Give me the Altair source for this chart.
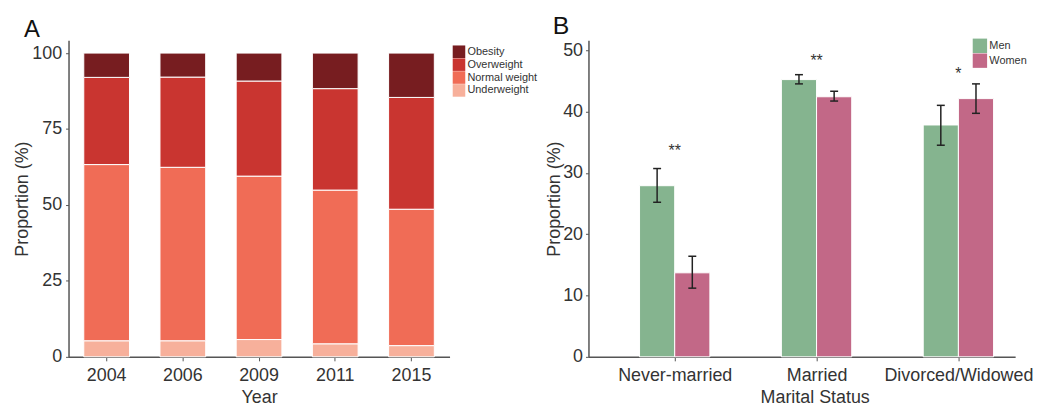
import json
import altair as alt
import pandas as pd

# ---------------- Panel A data ----------------
years = ["2004", "2006", "2009", "2011", "2015"]
categories = ["Obesity", "Overweight", "Normal weight", "Underweight"]
underweight = [5.3, 5.3, 5.7, 4.3, 3.7]
normal_weight = [58.0, 57.1, 53.8, 50.6, 44.9]
overweight = [28.7, 29.7, 31.3, 33.4, 36.8]
obesity = [8.0, 7.9, 9.2, 11.7, 14.6]
bmi_colors = ["#771d20", "#c93530", "#f06c56", "#f7b09b"]

# ---------------- Panel B data ----------------
statuses = ["Never-married", "Married", "Divorced/Widowed"]
sexes = ["Men", "Women"]
men = [27.9, 45.2, 37.8]
men_lo = [25.2, 44.5, 34.5]
men_hi = [30.7, 46.0, 41.0]
women = [13.7, 42.4, 42.1]
women_lo = [11.2, 41.7, 39.7]
women_hi = [16.4, 43.3, 44.5]
stars = ["**", "**", "*"]
star_y = [33.6, 48.3, 46.1]
sex_colors = ["#85b48f", "#c26887"]

FONT = "Liberation Sans"

# ---------------- build tables ----------------
series_a = {
    "Underweight": underweight,
    "Normal weight": normal_weight,
    "Overweight": overweight,
    "Obesity": obesity,
}
stack_order = ["Underweight", "Normal weight", "Overweight", "Obesity"]
rows_a = []
for cat, vals in series_a.items():
    for y, v in zip(years, vals):
        rows_a.append({"year": y, "category": cat, "value": v,
                       "ord": stack_order.index(cat)})
df_a = pd.DataFrame(rows_a)

rows_b = []
for i, s in enumerate(statuses):
    rows_b.append({"status": s, "sex": "Men", "value": men[i],
                   "lo": men_lo[i], "hi": men_hi[i]})
    rows_b.append({"status": s, "sex": "Women", "value": women[i],
                   "lo": women_lo[i], "hi": women_hi[i]})
df_b = pd.DataFrame(rows_b)
df_stars = pd.DataFrame({"status": statuses, "star": stars, "sy": star_y})

# ---------------- Panel A ----------------
chart_a = alt.Chart(df_a).mark_bar(stroke="white", strokeWidth=1).encode(
    x=alt.X("year:N", sort=years,
            scale=alt.Scale(paddingInner=0.4, paddingOuter=0.2),
            axis=alt.Axis(title="Year", labelAngle=0, tickSize=4,
                          labelPadding=6, titlePadding=4)),
    y=alt.Y("value:Q", stack="zero",
            scale=alt.Scale(domain=[0, 104.2], nice=False),
            axis=alt.Axis(title="Proportion (%)", values=[0, 25, 50, 75, 100],
                          tickSize=3, labelPadding=4, titlePadding=0,
                          grid=False)),
    color=alt.Color("category:N",
                    scale=alt.Scale(domain=categories, range=bmi_colors),
                    legend=alt.Legend(orient="none", legendX=387, legendY=5,
                                      title=None, symbolType="square",
                                      symbolSize=160, symbolStrokeWidth=0,
                                      labelFontSize=11, rowPadding=0,
                                      labelOffset=2, padding=0,
                                      labelColor="#333")),
    order=alt.Order("ord:Q"),
).properties(
    width=384, height=319,
    title=alt.TitleParams("A", anchor="start", frame="group", dx=-45,
                          fontSize=24, fontWeight="normal", color="#111",
                          baseline="alphabetic", offset=-21, font=FONT),
)

# ---------------- Panel B ----------------
idx_expr = f"indexof({json.dumps(statuses)}, datum.status)"
base_b = alt.Chart(df_b).transform_calculate(
    idx=idx_expr
).transform_calculate(
    xs="datum.idx + (datum.sex == 'Men' ? -0.248 : 0)"
).transform_calculate(
    xe="datum.xs + 0.248", xc="datum.xs + 0.124"
).transform_calculate(
    cl="datum.xc - 0.028", cr="datum.xc + 0.028"
)

xscale = alt.Scale(domain=[-0.608, 2.4], nice=False, zero=False)
yscale_b = alt.Scale(domain=[0, 51.6], nice=False)

bars_b = base_b.mark_bar(stroke="white", strokeWidth=1).encode(
    x=alt.X("xs:Q", scale=xscale,
            axis=alt.Axis(title="Marital Status", values=[0, 1, 2],
                          labelExpr=f"{json.dumps(statuses)}[datum.value]",
                          labelFlush=False, labelOverlap=False,
                          labelBound=False, grid=False, tickSize=4,
                          labelPadding=6, titlePadding=4, titleX=228)),
    x2="xe:Q",
    y=alt.Y("value:Q", scale=yscale_b,
            axis=alt.Axis(title="Proportion (%)",
                          values=[0, 10, 20, 30, 40, 50], tickSize=3,
                          labelPadding=3, titlePadding=-1, grid=False)),
    y2=alt.datum(0),
    color=alt.Color("sex:N",
                    scale=alt.Scale(domain=sexes, range=sex_colors),
                    legend=alt.Legend(orient="none", legendX=387, legendY=-2,
                                      title=None, symbolType="square",
                                      symbolSize=210, symbolStrokeWidth=0,
                                      labelFontSize=11, rowPadding=0,
                                      labelOffset=2, padding=0,
                                      labelColor="#333")),
)

err_rule = base_b.mark_rule(color="#222", strokeWidth=1.5).encode(
    x=alt.X("xc:Q", scale=xscale), y=alt.Y("lo:Q", scale=yscale_b), y2="hi:Q"
)
cap_lo = base_b.mark_rule(color="#222", strokeWidth=1.5).encode(
    x=alt.X("cl:Q", scale=xscale), x2="cr:Q", y=alt.Y("lo:Q", scale=yscale_b)
)
cap_hi = base_b.mark_rule(color="#222", strokeWidth=1.5).encode(
    x=alt.X("cl:Q", scale=xscale), x2="cr:Q", y=alt.Y("hi:Q", scale=yscale_b)
)
star_text = alt.Chart(df_stars).transform_calculate(
    idx=idx_expr
).mark_text(fontSize=16, color="#333", baseline="middle", font=FONT).encode(
    x=alt.X("idx:Q", scale=xscale),
    y=alt.Y("sy:Q", scale=yscale_b),
    text="star:N",
)

chart_b = alt.layer(bars_b, err_rule, cap_lo, cap_hi, star_text).properties(
    width=430, height=319,
    title=alt.TitleParams("B", anchor="start", frame="group", dx=-36,
                          fontSize=25, fontWeight="normal", color="#111",
                          baseline="alphabetic", offset=-21, font=FONT),
)

chart = alt.hconcat(chart_a, chart_b, spacing=140, bounds="flush").resolve_scale(
    color="independent"
).properties(
    padding={"left": 5, "top": 5, "right": 0, "bottom": 5}
).configure_view(stroke=None).configure_axis(
    labelFont=FONT, titleFont=FONT, labelFontSize=18, titleFontSize=18,
    labelColor="#333", titleColor="#333", titleFontWeight="normal",
    domainColor="#555", domainWidth=1.5, tickColor="#555", tickWidth=1,
).configure_legend(labelFont=FONT)

chart.save("out.html", embed_options={"renderer": "svg", "actions": False})
